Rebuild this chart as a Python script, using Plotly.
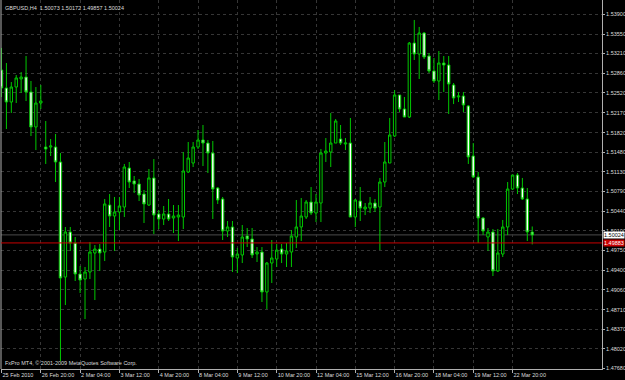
import plotly.graph_objects as go

# GBPUSD H4 bars (bar index 0 = 25 Feb 2010 12:00)
open_ = [
    1.52921, 1.52605, 1.52359, 1.52622, 1.52763, 1.52798, 1.52535, 1.51920, 1.52341, 1.51568,
    1.51568, 1.51568, 1.51305, 1.49284, 1.50075, 1.49881, 1.49337, 1.49249, 1.49372, 1.49706,
    1.49776, 1.49723, 1.50549, 1.50356, 1.50426, 1.50514, 1.51199, 1.50971, 1.50918, 1.50742,
    1.50549, 1.51024, 1.50391, 1.50303, 1.50391, 1.50321, 1.50338, 1.50338, 1.51129, 1.51287,
    1.51568, 1.51691, 1.51638, 1.51463, 1.50848, 1.50655, 1.50092, 1.50163, 1.49618, 1.49671,
    1.50004, 1.49952, 1.49688, 1.49723, 1.49021, 1.49530, 1.49600, 1.49776, 1.49688, 1.49723,
    1.49987, 1.50163, 1.50338, 1.50602, 1.50409, 1.50584, 1.51463, 1.51480, 1.51638, 1.51709,
    1.51621, 1.51638, 1.50338, 1.50619, 1.50479, 1.50496, 1.50584, 1.50514, 1.50953, 1.51287,
    1.51761, 1.52482, 1.52236, 1.52095, 1.53395, 1.53202, 1.53571, 1.53167, 1.52904, 1.52728,
    1.53044, 1.53009, 1.52658, 1.52447, 1.52464, 1.52289, 1.51410, 1.51041, 1.50321, 1.49987,
    1.50075, 1.49390, 1.49688, 1.50163, 1.50830, 1.51076, 1.50848, 1.50655, 1.50073]

high = [
    1.53308, 1.53044, 1.52710, 1.52833, 1.52886, 1.53167, 1.52728, 1.52622, 1.52658, 1.52025,
    1.51709, 1.51797, 1.51463, 1.50163, 1.50163, 1.49987, 1.49477, 1.49460, 1.49899, 1.49846,
    1.49864, 1.50655, 1.50742, 1.50690, 1.50690, 1.51270, 1.51305, 1.51059, 1.51006, 1.50813,
    1.51182, 1.51357, 1.50461, 1.50532, 1.50655, 1.50549, 1.50549, 1.51480, 1.51656, 1.51656,
    1.51867, 1.51955, 1.51691, 1.51674, 1.50865, 1.50690, 1.50268, 1.50268, 1.49794, 1.50198,
    1.50145, 1.50145, 1.49811, 1.49811, 1.49548, 1.49934, 1.49864, 1.49864, 1.49881, 1.50110,
    1.50637, 1.50672, 1.50637, 1.50865, 1.50742, 1.51533, 1.51726, 1.52166, 1.52060, 1.51955,
    1.51726, 1.52078, 1.50655, 1.50865, 1.50584, 1.50690, 1.50655, 1.51024, 1.51656, 1.52078,
    1.52570, 1.52482, 1.52447, 1.53413, 1.53800, 1.53677, 1.53589, 1.53220, 1.53132, 1.53255,
    1.53167, 1.53167, 1.52693, 1.52535, 1.52535, 1.52306, 1.51638, 1.51129, 1.50338, 1.50145,
    1.50127, 1.50127, 1.50286, 1.50953, 1.51076, 1.51111, 1.51024, 1.50848, 1.50172]

low = [
    1.52447, 1.51884, 1.52166, 1.52341, 1.52517, 1.52376, 1.51761, 1.51515, 1.52236, 1.51270,
    1.51410, 1.50953, 1.47808, 1.48792, 1.49741, 1.49214, 1.49003, 1.48546, 1.49249, 1.48880,
    1.49390, 1.49565, 1.50163, 1.49741, 1.50110, 1.50338, 1.50848, 1.50760, 1.50619, 1.50233,
    1.50532, 1.50040, 1.50127, 1.50198, 1.50268, 1.50057, 1.49917, 1.50127, 1.51111, 1.51217,
    1.51533, 1.51234, 1.51111, 1.50303, 1.50567, 1.49934, 1.49987, 1.49372, 1.49354, 1.49530,
    1.49811, 1.49618, 1.49548, 1.48845, 1.48722, 1.49179, 1.49460, 1.49530, 1.49460, 1.49460,
    1.49794, 1.49917, 1.50303, 1.50373, 1.50250, 1.50250, 1.51305, 1.51217, 1.51638, 1.51603,
    1.51515, 1.50338, 1.50163, 1.50268, 1.50373, 1.50409, 1.50426, 1.49758, 1.50865, 1.51287,
    1.51744, 1.52183, 1.52095, 1.52078, 1.53097, 1.52763, 1.53114, 1.52868, 1.52693, 1.52394,
    1.52535, 1.52148, 1.52323, 1.52359, 1.52183, 1.51270, 1.51024, 1.49881, 1.50022, 1.49741,
    1.49302, 1.49372, 1.49636, 1.50022, 1.50813, 1.50742, 1.50637, 1.49917, 1.49857]

close = [
    1.52605, 1.52359, 1.52622, 1.52781, 1.52798, 1.52535, 1.51920, 1.52341, 1.52376, 1.51533,
    1.51586, 1.51305, 1.49267, 1.50075, 1.49881, 1.49337, 1.49231, 1.49372, 1.49723, 1.49776,
    1.49706, 1.50567, 1.50356, 1.50426, 1.50532, 1.51217, 1.50953, 1.50918, 1.50725, 1.50567,
    1.51024, 1.50373, 1.50303, 1.50391, 1.50303, 1.50356, 1.50373, 1.51147, 1.51375, 1.51568,
    1.51691, 1.51638, 1.51463, 1.50830, 1.50637, 1.50092, 1.50163, 1.49636, 1.49688, 1.49987,
    1.49952, 1.49671, 1.49723, 1.49021, 1.49530, 1.49618, 1.49758, 1.49688, 1.49741, 1.50004,
    1.50163, 1.50356, 1.50602, 1.50409, 1.50602, 1.51463, 1.51498, 1.51638, 1.52025, 1.51638,
    1.51638, 1.50338, 1.50637, 1.50496, 1.50514, 1.50584, 1.50496, 1.50953, 1.51305, 1.51779,
    1.52482, 1.52236, 1.52095, 1.53395, 1.53202, 1.53571, 1.53150, 1.52904, 1.52728, 1.53044,
    1.53009, 1.52675, 1.52429, 1.52464, 1.52306, 1.51393, 1.51041, 1.50321, 1.50092, 1.50075,
    1.49390, 1.49706, 1.50163, 1.50830, 1.51076, 1.50848, 1.50655, 1.50075, 1.50024]

time_labels = ["25 Feb 2010", "26 Feb 20:00", "2 Mar 04:00", "3 Mar 12:00", "4 Mar 20:00",
               "8 Mar 04:00", "9 Mar 12:00", "10 Mar 20:00", "12 Mar 04:00", "15 Mar 12:00",
               "16 Mar 20:00", "18 Mar 04:00", "19 Mar 12:00", "22 Mar 20:00"]
time_label_bars = [0, 8, 16, 24, 32, 40, 48, 56, 64, 72, 80, 88, 96, 104]

price_ticks = [1.47680, 1.48020, 1.48370, 1.48710, 1.49060, 1.49400, 1.49750, 1.50100,
               1.50440, 1.50790, 1.51130, 1.51480, 1.51820, 1.52170, 1.52520, 1.52860,
               1.53210, 1.53550, 1.53900]

bid_price = 1.50024
level_price = 1.49883
title_text = "GBPUSD,H4  1.50073 1.50172 1.49857 1.50024"
copyright_text = "FxPro MT4, © 2001-2009 MetaQuotes Software Corp."

FONT = "Liberation Sans, Arial, sans-serif"
FS = 5.5
GREEN = "#00c800"
AXIS = "#b0b0b0"
GRID = "#363636"
TXT = "#dcdcdc"

x = list(range(len(open_)))

fig = go.Figure(go.Candlestick(
    x=x, open=open_, high=high, low=low, close=close,
    increasing=dict(line=dict(color=GREEN, width=1), fillcolor="#000000"),
    decreasing=dict(line=dict(color=GREEN, width=1), fillcolor="#ffffff"),
    whiskerwidth=0, hoverinfo="skip", showlegend=False,
))

fig.update_layout(
    width=625, height=380,
    margin=dict(l=1, r=23, t=0, b=11, pad=0, autoexpand=False),
    paper_bgcolor="#000000", plot_bgcolor="#000000",
    showlegend=False,
    font=dict(family=FONT, size=FS, color=TXT),
    xaxis=dict(
        range=[-0.1, 122.2], rangeslider=dict(visible=False),
        tickmode="array", tickvals=time_label_bars, ticktext=time_labels,
        tickangle=0, automargin=False,
        ticks="outside", ticklen=3, tickcolor=AXIS, tickwidth=1,
        ticklabelposition="outside right",
        tickfont=dict(family=FONT, size=FS, color=TXT),
        showline=True, linecolor=AXIS, linewidth=1,
        showgrid=True, gridcolor=GRID, griddash="dot", gridwidth=1,
        zeroline=False, fixedrange=True,
    ),
    yaxis=dict(
        side="right", range=[1.47668, 1.54151], automargin=False,
        tickmode="array", tickvals=price_ticks,
        ticktext=[f"{v:.5f}" for v in price_ticks],
        ticks="outside", ticklen=2, tickcolor=AXIS, tickwidth=1,
        tickfont=dict(family=FONT, size=FS, color=TXT),
        showline=True, linecolor=AXIS, linewidth=1,
        showgrid=True, gridcolor=GRID, griddash="dot", gridwidth=1,
        zeroline=False, fixedrange=True,
    ),
    shapes=[
        dict(type="line", xref="paper", yref="paper", x0=0, x1=0, y0=0, y1=1,
             line=dict(color=AXIS, width=1)),
        dict(type="line", xref="paper", yref="y", x0=0, x1=1, y0=bid_price, y1=bid_price,
             line=dict(color="#4a4a4a", width=1), layer="below"),
        dict(type="line", xref="paper", yref="y", x0=0, x1=1, y0=level_price, y1=level_price,
             line=dict(color="#c80000", width=1)),
    ],
    annotations=[
        dict(text=title_text, xref="paper", yref="paper", x=0.003, y=1, xanchor="left",
             yanchor="top", yshift=-3, showarrow=False,
             font=dict(family=FONT, size=FS, color=TXT)),
        dict(text=copyright_text, xref="paper", yref="paper", x=0.003, y=0, xanchor="left",
             yanchor="bottom", yshift=1, showarrow=False,
             font=dict(family=FONT, size=FS, color=TXT)),
        dict(text=f"{bid_price:.5f}", xref="paper", yref="y", x=1, y=bid_price,
             xanchor="left", yanchor="middle", xshift=1, showarrow=False,
             bgcolor="#ffffff", borderpad=0,
             font=dict(family=FONT, size=FS, color="#000000")),
        dict(text=f"{level_price:.5f}", xref="paper", yref="y", x=1, y=level_price,
             xanchor="left", yanchor="middle", xshift=1, showarrow=False,
             bgcolor="#c80000", borderpad=0,
             font=dict(family=FONT, size=FS, color="#ffffff")),
    ],
)

fig.write_html("out.html")
